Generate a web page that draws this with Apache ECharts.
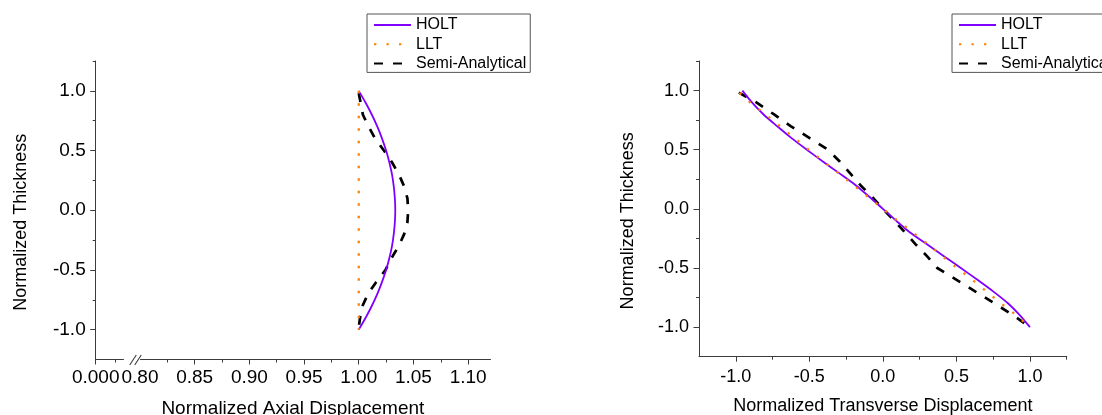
<!DOCTYPE html>
<html><head><meta charset="utf-8">
<script src="https://cdn.jsdelivr.net/npm/echarts@6/dist/echarts.min.js"></script>
<style>html,body{margin:0;padding:0;background:#fff}#c{width:1102px;height:415px}</style>
</head><body><div id="c"></div>
<script>
const seriesNames = ['HOLT', 'LLT', 'Semi-Analytical'];

// Left panel: normalized axial displacement vs normalized thickness
const thickness = [1.0, 0.9, 0.8, 0.7, 0.6, 0.5, 0.4, 0.3, 0.2, 0.1, 0.0, -0.1, -0.2, -0.3, -0.4, -0.5, -0.6, -0.7, -0.8, -0.9, -1.0];
const holtAxial = [1.000, 1.0063, 1.0120, 1.0170, 1.0213, 1.0250, 1.0280, 1.0304, 1.0320, 1.0330, 1.0334, 1.0330, 1.0320, 1.0304, 1.0280, 1.0250, 1.0213, 1.0170, 1.0120, 1.0063, 1.000];
const lltAxial = [1.000, 1.000, 1.000, 1.000, 1.000, 1.000, 1.000, 1.000, 1.000, 1.000, 1.000, 1.000, 1.000, 1.000, 1.000, 1.000, 1.000, 1.000, 1.000, 1.000, 1.000];
const semiAxialThickness = [0.98, 0.9, 0.8, 0.7, 0.6, 0.5, 0.4, 0.3, 0.2, 0.1, 0.0, -0.1, -0.2, -0.3, -0.4, -0.5, -0.6, -0.7, -0.8, -0.9, -0.98];
const semiAxial = [1.000, 1.0017, 1.0038, 1.0090, 1.0150, 1.0230, 1.0305, 1.0367, 1.0415, 1.0445, 1.0452, 1.0445, 1.0415, 1.0365, 1.0300, 1.0245, 1.0160, 1.0085, 1.0035, 1.0012, 1.000];

// Right panel: normalized transverse displacement vs normalized thickness
const holtTransverse = [-0.955, -0.89, -0.813, -0.72, -0.623, -0.517, -0.408, -0.295, -0.185, -0.09, 0.0, 0.09, 0.185, 0.30, 0.415, 0.53, 0.643, 0.752, 0.852, 0.932, 1.0];
const lltThickness = [0.98, 0.9, 0.8, 0.7, 0.6, 0.5, 0.4, 0.3, 0.2, 0.1, 0.0, -0.1, -0.2, -0.3, -0.4, -0.5, -0.6, -0.7, -0.8, -0.9, -1.0];
const lltTransverse = [-0.975, -0.903, -0.80, -0.70, -0.603, -0.504, -0.402, -0.30, -0.199, -0.10, 0.0, 0.10, 0.205, 0.308, 0.404, 0.505, 0.608, 0.706, 0.805, 0.908, 1.0];
const semiTransThickness = [0.983, 0.9, 0.8, 0.7, 0.6, 0.5, 0.4, 0.3, 0.2, 0.1, 0.0, -0.1, -0.2, -0.3, -0.4, -0.5, -0.6, -0.7, -0.8, -0.9, -1.0];
const semiTransverse = [-0.979, -0.86, -0.742, -0.627, -0.50, -0.373, -0.293, -0.222, -0.152, -0.072, 0.0, 0.078, 0.151, 0.223, 0.30, 0.37, 0.501, 0.630, 0.760, 0.887, 1.0];

// Tick values and labels
const axialLabelValues = [0, 0.80, 0.85, 0.90, 0.95, 1.00, 1.05, 1.10];
const axialLabels = ['0.000', '0.80', '0.85', '0.90', '0.95', '1.00', '1.05', '1.10'];
const axialMajorTicks = [0, 0.85, 0.90, 0.95, 1.00, 1.05, 1.10];
const axialMinorTicks = [0.018, 0.825, 0.875, 0.925, 0.975, 1.025, 1.075];
const thicknessTickValues = [-1.0, -0.5, 0.0, 0.5, 1.0];
const thicknessTickLabels = ['-1.0', '-0.5', '0.0', '0.5', '1.0'];
const thicknessMinorTicks = [-0.75, -0.25, 0.25, 0.75, 1.25];
const transTickValues = [-1.0, -0.5, 0.0, 0.5, 1.0];
const transTickLabels = ['-1.0', '-0.5', '0.0', '0.5', '1.0'];
const transMinorTicks = [-0.75, -0.25, 0.25, 0.75, 1.25];

const FONT = '"Liberation Sans", Arial, sans-serif';
const AXIS = '#3c3c3c';
const COLORS = { HOLT: '#8000ff', LLT: '#ff8000', SEMI: '#000000' };

function fmt(values, labels) {
  return function (v) {
    for (let i = 0; i < values.length; i++) if (Math.abs(values[i] - v) < 1e-9) return labels[i];
    return '';
  };
}
function pairs(xs, ys) { return xs.map((x, i) => [x, ys[i]]); }

const axialBreaks = [{ start: 0.025, end: 0.8, gap: '4.3%' }];

function mainX(gridIndex, fs, extra) {
  return Object.assign({
    type: 'value', gridIndex, position: 'bottom',
    axisLine: { show: true, onZero: false, lineStyle: { color: AXIS, width: 1 } },
    splitLine: { show: false },
    nameLocation: 'middle',
    nameTextStyle: { fontSize: fs, color: '#000', fontFamily: FONT }
  }, extra);
}
function mainY(gridIndex, fs, extra) {
  return Object.assign({
    type: 'value', gridIndex, position: 'left', min: -1.25, max: 1.25,
    axisLine: { show: true, onZero: false, lineStyle: { color: AXIS, width: 1 } },
    axisTick: { show: true, inside: false, length: 5.5, customValues: thicknessTickValues, lineStyle: { color: AXIS } },
    axisLabel: { fontSize: fs, color: '#000', fontFamily: FONT, margin: 10, showMinLabel: true, showMaxLabel: true,
      customValues: thicknessTickValues, formatter: fmt(thicknessTickValues, thicknessTickLabels) },
    splitLine: { show: false },
    name: 'Normalized Thickness', nameLocation: 'middle',
    nameTextStyle: { fontSize: 18, color: '#000', fontFamily: FONT, padding: [0, 24, 0, 0] }
  }, extra);
}
function minorAxis(base, values) {
  return Object.assign({}, base, {
    name: '',
    axisLine: { show: false, onZero: false },
    axisLabel: { show: false },
    axisTick: { show: true, inside: false, length: 3, customValues: values, lineStyle: { color: AXIS } }
  });
}

const x0 = mainX(0, 19, {
  min: 0, max: 1.12, breaks: axialBreaks, breakArea: { show: false },
  name: 'Normalized Axial Displacement', nameGap: 40,
  axisTick: { show: true, inside: false, length: 5, customValues: axialMajorTicks, lineStyle: { color: AXIS } },
  axisLabel: { fontSize: 19, color: '#000', fontFamily: FONT, margin: 9, showMinLabel: true, showMaxLabel: true,
    hideOverlap: false,
    customValues: axialLabelValues, formatter: fmt(axialLabelValues, axialLabels) }
});
const x1 = mainX(1, 18, {
  min: -1.25, max: 1.25, name: 'Normalized Transverse Displacement', nameGap: 40,
  axisTick: { show: true, inside: false, length: 5, customValues: transTickValues, lineStyle: { color: AXIS } },
  axisLabel: { fontSize: 18, color: '#000', fontFamily: FONT, margin: 11, showMinLabel: true, showMaxLabel: true,
    customValues: transTickValues, formatter: fmt(transTickValues, transTickLabels) }
});
const y0 = mainY(0, 19, { nameGap: 66 });
const y1 = mainY(1, 18, { nameGap: 62 });

function line(name, data, xi, yi) {
  const style = name === 'HOLT' ? { color: COLORS.HOLT, width: 1.8, type: 'solid' }
    : name === 'LLT' ? { color: COLORS.LLT, width: 2.3, type: [2.3, 10.2] }
    : { color: COLORS.SEMI, width: 2.7, type: [9, 10] };
  return { name, type: 'line', xAxisIndex: xi, yAxisIndex: yi, data, symbol: 'none',
    showSymbol: false, smooth: name === 'HOLT' ? 0.25 : false,
    lineStyle: style, itemStyle: { color: style.color, opacity: 0 },
    silent: true, z: name === 'LLT' ? 4 : (name === 'HOLT' ? 3 : 2) };
}

function legendAt(left) {
  return { left, top: 14, orient: 'vertical', data: seriesNames, selectedMode: false,
    itemWidth: 37, itemHeight: 14, itemGap: 3.2, padding: [3, 4, 1, 6],
    itemStyle: { opacity: 0 },
    borderColor: '#555', borderWidth: 1, backgroundColor: '#fff',
    textStyle: { fontSize: 16, color: '#000', fontFamily: FONT } };
}

const chart = echarts.init(document.getElementById('c'), null, { renderer: 'canvas' });
chart.setOption({
  animation: false,
  backgroundColor: '#fff',
  textStyle: { fontFamily: FONT },
  grid: [
    { left: 95.7, top: 61, width: 394.3, height: 298.5, containLabel: false, outerBoundsMode: 'none' },
    { left: 699, top: 61, width: 367.7, height: 295.7, containLabel: false, outerBoundsMode: 'none' }
  ],
  xAxis: [x0, x1, minorAxis(x0, axialMinorTicks), minorAxis(x1, transMinorTicks)],
  yAxis: [y0, y1, minorAxis(y0, thicknessMinorTicks), minorAxis(y1, thicknessMinorTicks)],
  legend: [legendAt(367), legendAt(952)],
  series: [
    line('HOLT', pairs(holtAxial, thickness), 0, 0),
    line('LLT', pairs(lltAxial, thickness), 0, 0),
    line('Semi-Analytical', pairs(semiAxial, semiAxialThickness), 0, 0),
    line('HOLT', pairs(holtTransverse, thickness), 1, 1),
    line('LLT', pairs(lltTransverse, lltThickness), 1, 1),
    line('Semi-Analytical', pairs(semiTransverse, semiTransThickness), 1, 1)
  ]
});

// Break marks ("//") on the axial axis, placed at the break end via the axis scale
const p = chart.convertToPixel({ xAxisIndex: 0, yAxisIndex: 0 }, [0.8, -1.25]);
if (p) {
  const mk = (dx) => ({ type: 'line', silent: true, z: 50,
    shape: { x1: p[0] + dx - 3.3, y1: p[1] + 5.5, x2: p[0] + dx + 3.3, y2: p[1] - 4.5 },
    style: { stroke: AXIS, lineWidth: 1.1 } });
  chart.setOption({ graphic: [mk(-7), mk(-2)] });
}
</script>
</body></html>
